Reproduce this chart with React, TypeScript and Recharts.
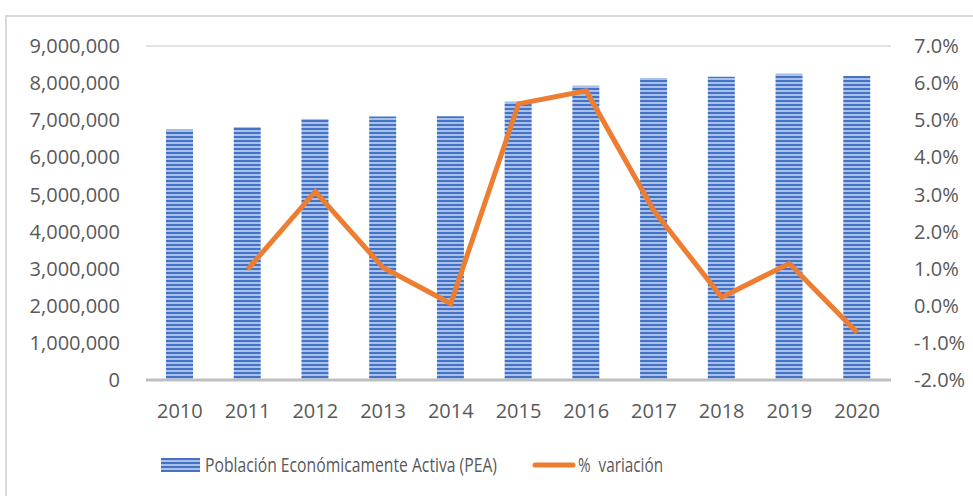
import { Bar, CartesianGrid, ComposedChart, Legend, Line, XAxis, YAxis } from "recharts";

const years = ["2010", "2011", "2012", "2013", "2014", "2015", "2016", "2017", "2018", "2019", "2020"];
const pea = [6750000, 6820000, 7030000, 7100000, 7110000, 7500000, 7930000, 8140000, 8170000, 8250000, 8190000];
const variation = [null, 0.98, 3.08, 1.03, 0.06, 5.44, 5.79, 2.56, 0.23, 1.14, -0.72];
const leftTicks = [0, 1000000, 2000000, 3000000, 4000000, 5000000, 6000000, 7000000, 8000000, 9000000];
const rightTicks = [-2, -1, 0, 1, 2, 3, 4, 5, 6, 7];

const data = years.map((year, i) => ({ year, pea: pea[i], variation: variation[i] }));

const FONT = "'Open Sans', sans-serif";
const TEXT = "#595959";
const BLUE = "#4472c4";
const ORANGE = "#ed7d31";

function StripeDefs() {
  return (
    <defs>
      <pattern id="stripes" width="6" height="4" patternUnits="userSpaceOnUse">
        <rect x="0" y="0" width="6" height="4" fill="#a9c0ea" />
        <rect x="0" y="0" width="6" height="2" fill={BLUE} />
      </pattern>
    </defs>
  );
}

function ChartLegend(): JSX.Element {
  return (
    <svg width={973} height={36} style={{ display: "block" }}>
      <defs>
        <pattern id="stripesLegend" width="6" height="4" patternUnits="userSpaceOnUse">
          <rect x="0" y="0" width="6" height="4" fill="#a9c0ea" />
          <rect x="0" y="0" width="6" height="2" fill={BLUE} />
        </pattern>
      </defs>
      <rect x={161} y={8} width={39} height={14} fill="url(#stripesLegend)" />
      <text x={205} y={22} fill={TEXT} fontFamily={FONT} fontSize={20} textLength={292} lengthAdjust="spacingAndGlyphs">
        Población Económicamente Activa (PEA)
      </text>
      <line x1={535} y1={15} x2={573} y2={15} stroke={ORANGE} strokeWidth={5} strokeLinecap="round" />
      <text x={578} y={22} fill={TEXT} fontFamily={FONT} fontSize={20} textLength={85} lengthAdjust="spacingAndGlyphs" xmlSpace="preserve">
        %  variación
      </text>
    </svg>
  );
}

export default function App(): JSX.Element {
  return (
    <div style={{ position: "absolute", left: 0, top: 0, width: 973, height: 496, background: "#fff", overflow: "hidden" }}>
      <div style={{ position: "absolute", left: 5, top: 15, width: 1000, height: 520, border: "2px solid #d9d9d9", boxSizing: "border-box" }} />
      <ComposedChart
        width={973}
        height={496}
        data={data}
        margin={{ top: 46, right: 0, left: 0, bottom: 10 }}
        style={{ position: "absolute", left: 0, top: 0 }}
      >
        <StripeDefs />
        <CartesianGrid vertical={false} stroke="#d9d9d9" strokeWidth={1.5} />
        <XAxis
          dataKey="year"
          height={70}
          tickLine={false}
          axisLine={{ stroke: "#bfbfbf", strokeWidth: 3 }}
          tickMargin={18}
          tick={{ fill: TEXT, fontSize: 20, fontFamily: FONT }}
        />
        <YAxis
          yAxisId="left"
          width={146}
          domain={[0, 9000000]}
          ticks={leftTicks}
          tickLine={false}
          axisLine={false}
          tickMargin={20}
          tick={{ fill: TEXT, fontSize: 20, fontFamily: FONT }}
          tickFormatter={(v) => Number(v).toLocaleString("en-US")}
        />
        <YAxis
          yAxisId="right"
          orientation="right"
          width={82}
          domain={[-2, 7]}
          ticks={rightTicks}
          tickLine={false}
          axisLine={false}
          tickMargin={17}
          tick={{ fill: TEXT, fontSize: 20, fontFamily: FONT }}
          tickFormatter={(v) => `${Number(v).toFixed(1)}%`}
        />
        <Legend verticalAlign="bottom" content={() => <ChartLegend />} />
        <Bar yAxisId="left" dataKey="pea" name="Población Económicamente Activa (PEA)" fill="url(#stripes)" barSize={27} isAnimationActive={false} />
        <Line
          yAxisId="right"
          dataKey="variation"
          name="% variación"
          type="linear"
          stroke={ORANGE}
          strokeWidth={5}
          dot={false}
          activeDot={false}
          connectNulls={false}
          isAnimationActive={false}
        />
      </ComposedChart>
    </div>
  );
}
